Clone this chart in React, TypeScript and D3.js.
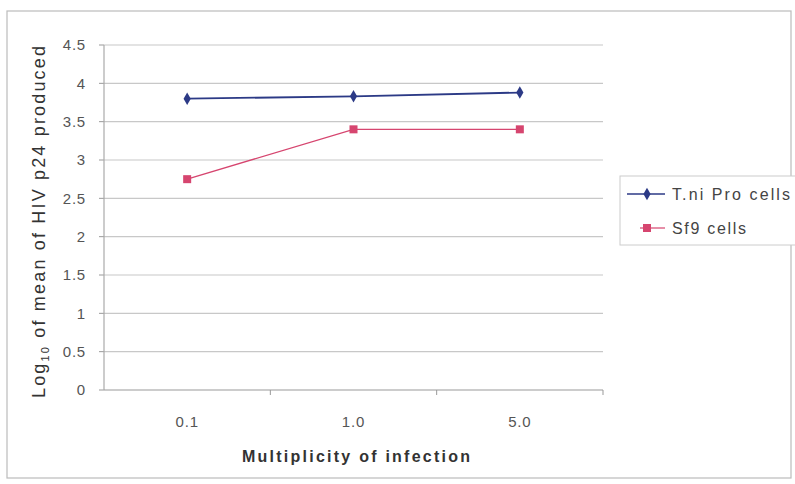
import React from "react";
import * as d3 from "d3";

const categories = ["0.1", "1.0", "5.0"];
const tniValues = [3.8, 3.83, 3.88];
const sf9Values = [2.75, 3.4, 3.4];
const yTicks = [0, 0.5, 1, 1.5, 2, 2.5, 3, 3.5, 4, 4.5];
const seriesNames = ["T.ni Pro cells", "Sf9 cells"];

export default function App() {
  const W = 795, H = 484;
  const left = 104, right = 603, top = 45, bottom = 390;
  const x = d3.scaleBand().domain(categories).range([left, right]);
  const y = d3.scaleLinear().domain([0, 4.5]).range([bottom, top]);
  const cx = (c: string) => (x(c) as number) + x.bandwidth() / 2;
  const line = d3.line<number>().x((_, i) => cx(categories[i])).y((d) => y(d));
  const font = "'Liberation Sans', Arial, sans-serif";
  const blue = "#2c3a86";
  const pink = "#d6456f";
  const diamond = d3.symbol().type(d3.symbolDiamond).size(45)();
  return (
    <svg width={W} height={H} style={{ position: "absolute", left: 0, top: 0, background: "#fff" }} fontFamily={font}>
      <rect x={7} y={11} width={784} height={467} fill="#fff" stroke="#bbb" strokeWidth={1.2} />
      {yTicks.map((t) => (
        <g key={t}>
          {t > 0 && <line x1={left} x2={right} y1={y(t)} y2={y(t)} stroke="#c8c8c8" strokeWidth={1.2} />}
          <line x1={left - 5} x2={left} y1={y(t)} y2={y(t)} stroke="#999" />
          <text x={left - 18} y={y(t)} dy="0.35em" textAnchor="end" fontSize={15} letterSpacing={0.8} fill="#555">{t}</text>
        </g>
      ))}
      <line x1={left} x2={left} y1={top} y2={bottom} stroke="#aaa" strokeWidth={1.2} />
      <line x1={left} x2={right} y1={bottom} y2={bottom} stroke="#999" strokeWidth={1.2} />
      {categories.map((c, i) => (
        <g key={c}>
          <line x1={left + x.bandwidth() * (i + 1)} x2={left + x.bandwidth() * (i + 1)} y1={bottom} y2={bottom + 5} stroke="#999" />
          <text x={cx(c)} y={427} textAnchor="middle" fontSize={15} letterSpacing={0.8} fill="#555">{c}</text>
        </g>
      ))}
      <text x={356} y={462} textAnchor="middle" fontSize={16} fontWeight="bold" fill="#333" textLength={228} lengthAdjust="spacing">Multiplicity of infection</text>
      <text transform={`translate(45,222) rotate(-90)`} textAnchor="middle" fontSize={18} fill="#333" textLength={352} lengthAdjust="spacing">
        Log<tspan fontSize={11} dy={4}>10</tspan><tspan dy={-4}> of mean of HIV p24 produced</tspan>
      </text>
      <path d={line(tniValues) || ""} fill="none" stroke={blue} strokeWidth={1.8} />
      <path d={line(sf9Values) || ""} fill="none" stroke={pink} strokeWidth={1.3} />
      {tniValues.map((v, i) => (
        <path key={"t" + i} d={diamond || ""} transform={`translate(${cx(categories[i])},${y(v)})`} fill={blue} />
      ))}
      {sf9Values.map((v, i) => (
        <rect key={"s" + i} x={cx(categories[i]) - 4} y={y(v) - 4} width={8} height={8} fill={pink} />
      ))}
      <rect x={620} y={176} width={180} height={69} fill="#fff" stroke="#ccc" />
      <line x1={627} x2={665} y1={194} y2={194} stroke={blue} strokeWidth={1.5} />
      <path d={diamond || ""} transform="translate(647,194)" fill={blue} />
      <text x={672} y={194} dy="0.35em" fontSize={16} fill="#444" textLength={118} lengthAdjust="spacing">{seriesNames[0]}</text>
      <line x1={640} x2={665} y1={228} y2={228} stroke={pink} strokeWidth={1.2} />
      <rect x={643} y={224} width={8} height={8} fill={pink} />
      <text x={672} y={228} dy="0.35em" fontSize={16} fill="#444" textLength={74} lengthAdjust="spacing">{seriesNames[1]}</text>
    </svg>
  );
}
